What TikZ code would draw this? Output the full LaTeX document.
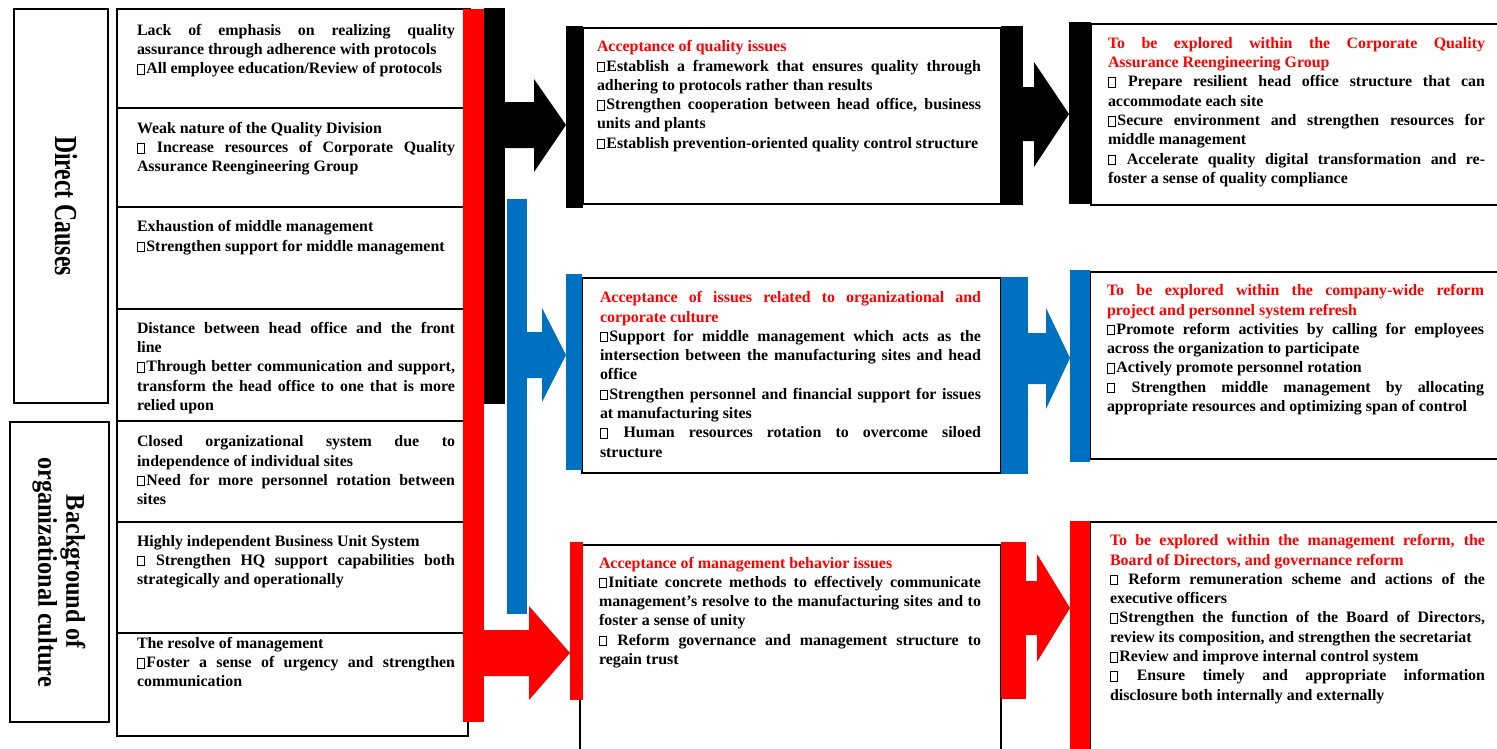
\documentclass[tikz,border=0pt]{standalone}
\usepackage{fontspec}
\setmainfont{Liberation Serif}
\usepackage{graphicx}
\definecolor{tred}{HTML}{FF0000}
\definecolor{tblue}{HTML}{0070C0}
\tolerance=9999 \hbadness=10000 \hyphenpenalty=10000 \exhyphenpenalty=10000
\newcommand{\sqb}{{\setlength{\fboxsep}{0pt}\setlength{\fboxrule}{0.9pt}\fbox{\rule{0pt}{8.6pt}\hspace{6.4pt}}}\kern1.2pt}
\newcommand{\ttl}[1]{\textcolor{tred}{#1}}
\begin{document}
\begin{tikzpicture}[x=1pt,y=-1pt,
  lbl/.style={draw, line width=1.2pt, inner sep=0pt, outer sep=0pt, anchor=north west},
  cbox/.style={draw, line width=1.6pt, inner sep=0pt, outer sep=0pt, anchor=north west},
  bar/.style={draw=none, inner sep=0pt, outer sep=0pt, anchor=north west},
  txt/.style={anchor=north west, inner sep=0pt, outer sep=0pt, align=justify,
    font=\fontsize{15.9}{19.3}\selectfont\bfseries, execute at begin node={\rule{0pt}{12pt}}},
]
\useasboundingbox (0,0) rectangle (1497,748);
\clip (0,0) rectangle (1497,748);
\fill[white] (0,0) rectangle (1497,748);

% left labels
\node[lbl, minimum width=94pt, minimum height=394pt] (dcbox) at (14,9) {};
\node[lbl, minimum width=99pt, minimum height=300pt] (bgbox) at (10,422) {};
\node[rotate=-90, inner sep=0pt, font=\fontsize{32}{34}\selectfont\bfseries] (dc) at (66,206) {\scalebox{0.74}[1]{Direct Causes}};
\node[rotate=-90, inner sep=0pt, align=center, font=\fontsize{27}{28}\selectfont\bfseries] (bg) at (59,572) {\scalebox{0.9}[1]{Background of}\\\scalebox{0.9}[1]{organizational culture}};

% cause boxes
\node[cbox, minimum width=353pt, minimum height=99pt] (c1) at (117,9) {};
\node[cbox, minimum width=353pt, minimum height=99pt] (c2) at (117,108) {};
\node[cbox, minimum width=353pt, minimum height=102pt] (c3) at (117,207) {};
\node[cbox, minimum width=353pt, minimum height=112pt] (c4) at (117,309) {};
\node[cbox, minimum width=353pt, minimum height=101pt] (c5) at (117,421) {};
\node[cbox, minimum width=353pt, minimum height=111pt] (c6) at (117,522) {};
\node[cbox, minimum width=351pt, minimum height=103pt] (c7) at (117,633) {};

\node[txt, text width=318pt] (t1) at (137,23) {Lack of emphasis on realizing quality\linebreak assurance through adherence with protocols\par \sqb All employee education/Review of protocols};
\node[txt, text width=318pt] (t2) at (137,121.3) {Weak nature of the Quality Division\par \sqb\ Increase resources of Corporate Quality\linebreak Assurance Reengineering Group};
\node[txt, text width=318pt] (t3) at (137,219.7) {Exhaustion of middle management\par \sqb Strengthen support for middle management};
\node[txt, text width=318pt] (t4) at (137,321.3) {Distance between head office and the front\linebreak line\par \sqb Through better communication and support,\linebreak transform the head office to one that is more\linebreak relied upon};
\node[txt, text width=318pt] (t5) at (137,434.7) {Closed organizational system due to\linebreak independence of individual sites\par \sqb Need for more personnel rotation between\linebreak sites};
\node[txt, text width=318pt] (t6) at (137,534) {Highly independent Business Unit System\par \sqb\ Strengthen HQ support capabilities both\linebreak strategically and operationally};
\node[txt, text width=318pt] (t7) at (137,636.3) {The resolve of management\par \sqb Foster a sense of urgency and strengthen\linebreak communication};

% left vertical bars
\node[bar, fill=tred, minimum width=21pt, minimum height=713pt] (rbar) at (463,9) {};
\node[bar, fill=black, minimum width=21pt, minimum height=396pt] (kbar) at (484,8) {};
\node[bar, fill=tblue, minimum width=20pt, minimum height=415pt] (bbar) at (507,199) {};

% middle boxes
\node[cbox, minimum width=418pt, minimum height=176pt] (m1) at (583,28) {};
\node[cbox, minimum width=419pt, minimum height=195pt] (m2) at (582,278) {};
\node[cbox, minimum width=421pt, minimum height=230pt] (m3) at (580,545) {};
\node[bar, fill=black, minimum width=17pt, minimum height=182pt] (m1L) at (566,26) {};
\node[bar, fill=black, minimum width=22pt, minimum height=179pt] (m1R) at (1001,26) {};
\node[bar, fill=tblue, minimum width=16pt, minimum height=196pt] (m2L) at (566,274) {};
\node[bar, fill=tblue, minimum width=27pt, minimum height=197pt] (m2R) at (1001,277) {};
\node[bar, fill=tred, minimum width=13pt, minimum height=158pt] (m3L) at (570,542) {};
\node[bar, fill=tred, minimum width=25pt, minimum height=157pt] (m3R) at (1001,542) {};

% left block arrows
\fill[black] (kbar.east |- 0,102) -- (534,102) -- (534,79) -- (m1L.west |- 0,125) -- (534,172) -- (534,148) -- (kbar.east |- 0,148) -- cycle;
\fill[tblue] (bbar.east |- 0,332) -- (542,332) -- (542,308) -- (m2L.west |- 0,355) -- (542,402) -- (542,378) -- (bbar.east |- 0,378) -- cycle;
\fill[tred] (rbar.east |- 0,630) -- (529,630) -- (529,606) -- (m3L.west |- 0,653) -- (529,700) -- (529,676) -- (rbar.east |- 0,676) -- cycle;

\node[txt, text width=384pt] (mt1) at (597,39.7) {\ttl{Acceptance of quality issues}\par \sqb Establish a framework that ensures quality through\linebreak adhering to protocols rather than results\par \sqb Strengthen cooperation between head office, business\linebreak units and plants\par \sqb Establish prevention-oriented quality control structure};
\node[txt, text width=381pt] (mt2) at (600,290.7) {\ttl{Acceptance of issues related to organizational and\linebreak corporate culture}\par \sqb Support for middle management which acts as the\linebreak intersection between the manufacturing sites and head\linebreak office\par \sqb Strengthen personnel and financial support for issues\linebreak at manufacturing sites\par \sqb\ Human resources rotation to overcome siloed\linebreak structure};
\node[txt, text width=382pt] (mt3) at (599,556) {\ttl{Acceptance of management behavior issues}\par \sqb Initiate concrete methods to effectively communicate\linebreak management’s resolve to the manufacturing sites and to\linebreak foster a sense of unity\par \sqb\ Reform governance and management structure to\linebreak regain trust};

% right boxes
\node[cbox, minimum width=430pt, minimum height=181pt] (r1) at (1091,24) {};
\node[cbox, minimum width=430pt, minimum height=187pt] (r2) at (1090,272) {};
\node[cbox, minimum width=430pt, minimum height=250pt] (r3) at (1090,522) {};
\node[bar, fill=black, minimum width=22pt, minimum height=182pt] (r1L) at (1069,22) {};
\node[bar, fill=tblue, minimum width=20pt, minimum height=192pt] (r2L) at (1070,270) {};
\node[bar, fill=tred, minimum width=20pt, minimum height=240pt] (r3L) at (1070,521) {};

% right block arrows
\fill[black] (m1R.east |- 0,87) -- (1034,87) -- (1034,62) -- (r1L.west |- 0,114) -- (1034,167) -- (1034,141) -- (m1R.east |- 0,141) -- cycle;
\fill[tblue] (m2R.east |- 0,333) -- (1046,333) -- (1046,308) -- (r2L.west |- 0,358) -- (1046,409) -- (1046,384) -- (m2R.east |- 0,384) -- cycle;
\fill[tred] (m3R.east |- 0,581) -- (1037,581) -- (1037,554) -- (r3L.west |- 0,608) -- (1037,662) -- (1037,635) -- (m3R.east |- 0,635) -- cycle;

\node[txt, text width=377pt] (rt1) at (1108,36.3) {\ttl{To be explored within the Corporate Quality\linebreak Assurance Reengineering Group}\par \sqb\ Prepare resilient head office structure that can\linebreak accommodate each site\par \sqb Secure environment and strengthen resources for\linebreak middle management\par \sqb\ Accelerate quality digital transformation and re-\linebreak foster a sense of quality compliance};
\node[txt, text width=377pt] (rt2) at (1107,283.7) {\ttl{To be explored within the company-wide reform\linebreak project and personnel system refresh}\par \sqb Promote reform activities by calling for employees\linebreak across the organization to participate\par \sqb Actively promote personnel rotation\par \sqb\ Strengthen middle management by allocating\linebreak appropriate resources and optimizing span of control};
\node[txt, text width=375pt] (rt3) at (1110,533.7) {\ttl{To be explored within the management reform, the\linebreak Board of Directors, and governance reform}\par \sqb\ Reform remuneration scheme and actions of the\linebreak executive officers\par \sqb Strengthen the function of the Board of Directors,\linebreak review its composition, and strengthen the secretariat\par \sqb Review and improve internal control system\par \sqb\ Ensure timely and appropriate information\linebreak disclosure both internally and externally};
\end{tikzpicture}
\end{document}
